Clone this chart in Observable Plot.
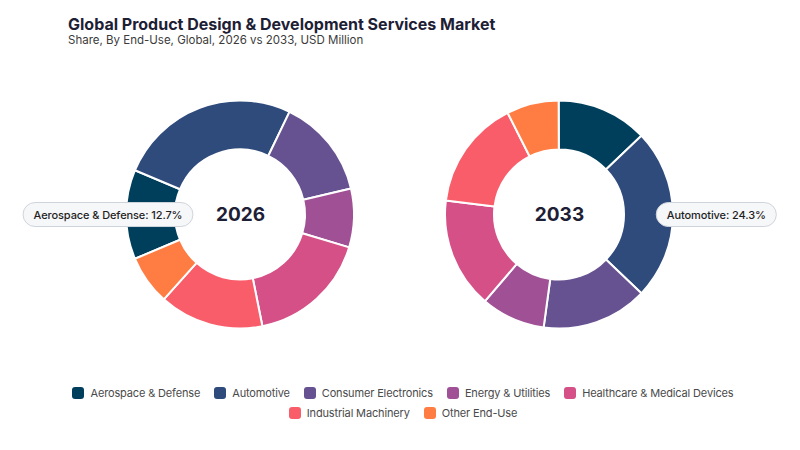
<!DOCTYPE html>
<html>
<head>
<meta charset="utf-8">
<script src="https://cdn.jsdelivr.net/npm/d3@7"></script>
<script src="https://cdn.jsdelivr.net/npm/@observablehq/plot@0.6"></script>
<style>
  body { margin: 0; background: #fff; font-family: Inter, "Noto Sans", sans-serif; }
  #chart { position: relative; width: 800px; height: 450px; overflow: hidden; }
  .title { position: absolute; left: 68px; top: 14px; font-size: 16px; font-weight: 700; color: #1d2035; white-space: nowrap; }
  .subtitle { position: absolute; left: 68px; top: 33px; font-size: 11.5px; color: #3b3b3b; white-space: nowrap; }
  #plot { position: absolute; left: 0; top: 60px; }
  #legend { position: absolute; left: 60px; top: 383px; width: 700px; }
  #legend .key-swatches { font-family: Inter, sans-serif; font-size: 11px; letter-spacing: -0.15px; color: #4a4a4a; margin: 0; }
  #legend .key-swatches-wrap { justify-content: center; min-height: 0; }
  #legend .key-swatch { margin-right: 14px; height: 20px; }
  #legend .key-swatch > svg { margin-right: 6px; }
  #legend .key-swatch rect { rx: 3px; ry: 3px; }
  .callout-pill { fill: #f6f7f9; stroke: #cfd4dc; stroke-width: 1; }
  g.callout text { letter-spacing: -0.1px; }
</style>
</head>
<body>
<div id="chart">
  <div class="title">Global Product Design &amp; Development Services Market</div>
  <div class="subtitle">Share, By End-Use, Global, 2026 vs 2033, USD Million</div>
  <div id="plot"></div>
  <div id="legend"></div>
</div>
<script>
// End-use categories and their shares (%) for each year
const categories = [
  "Aerospace & Defense",
  "Automotive",
  "Consumer Electronics",
  "Energy & Utilities",
  "Healthcare & Medical Devices",
  "Industrial Machinery",
  "Other End-Use"
];
const years = ["2026", "2033"];
const share2026 = [12.7, 25.8, 14.2, 8.3, 17.2, 14.8, 7.0];
const share2033 = [12.9, 24.3, 15.0, 9.1, 15.7, 15.6, 7.4];
const palette = ["#003f5c", "#2f4b7c", "#665191", "#a05195", "#d45087", "#f95d6a", "#ff7c43"];

// Highlighted slice per year
const callouts = [
  {year: "2026", category: "Aerospace & Defense"},
  {year: "2033", category: "Automotive"}
];

// Layout: donut radii, where the highlighted slice faces, and label offsets
const outerRadius = 114;
const holeRadius = 65;
const focusAngle = {"2026": -Math.PI / 2, "2033": Math.PI / 2};
const labelOffset = {"2026": -132.5, "2033": 156.8};

const sharesByYear = {"2026": share2026, "2033": share2033};
const shareOf = (year, category) => sharesByYear[year][categories.indexOf(category)];

// Turn shares into arc angles, rotated so the highlighted slice faces its label
const slices = years.flatMap((year) => {
  const values = sharesByYear[year];
  const total = d3.sum(values);
  const focus = categories.indexOf(callouts.find((c) => c.year === year).category);
  const before = d3.sum(values.slice(0, focus));
  const offset = focusAngle[year] - (2 * Math.PI * (before + values[focus] / 2)) / total;
  let acc = 0;
  return categories.map((category, k) => {
    const startAngle = offset + (2 * Math.PI * acc) / total;
    acc += values[k];
    const endAngle = offset + (2 * Math.PI * acc) / total;
    return {year, category, share: values[k], startAngle, endAngle};
  });
});

// Draw each slice as a donut arc centred on the year's x position
function renderArcs(index, scales, values, dimensions) {
  const cy = dimensions.marginTop + (dimensions.height - dimensions.marginTop - dimensions.marginBottom) / 2;
  const arc = d3.arc().innerRadius(holeRadius).outerRadius(outerRadius);
  const g = d3.create("svg:g");
  g.selectAll("path")
    .data(index)
    .join("path")
    .attr("transform", (i) => `translate(${values.x[i]},${cy})`)
    .attr("d", (i) => arc(slices[i]))
    .attr("fill", (i) => values.fill[i])
    .attr("stroke", "#fff")
    .attr("stroke-width", 2)
    .attr("stroke-linejoin", "round");
  return g.node();
}

const chart = Plot.plot({
  width: 800,
  height: 309,
  margin: 0,
  style: {fontFamily: "Inter, sans-serif", background: "transparent", overflow: "visible"},
  x: {type: "point", domain: years, range: [240, 559.5], padding: 0, axis: null},
  color: {domain: categories, range: palette},
  marks: [
    Plot.dot(slices, {x: "year", fill: "category", render: renderArcs}),
    Plot.text(years, {x: (d) => d, text: (d) => d, fontSize: 19, fontWeight: 700, fill: "#1d2035"}),
    ...callouts.map((c) =>
      Plot.text([c], {
        x: "year",
        text: (d) => `${d.category}: ${shareOf(d.year, d.category).toFixed(1)}%`,
        dx: labelOffset[c.year],
        fontSize: 11,
        fontWeight: 500,
        fill: "#1f1f1f",
        className: "callout"
      })
    )
  ]
});
document.getElementById("plot").appendChild(chart);

// Rounded pill behind each callout label, sharing the label's transform
chart.querySelectorAll("g.callout text").forEach((t) => {
  const b = t.getBBox();
  const pill = document.createElementNS("http://www.w3.org/2000/svg", "rect");
  const mid = b.y + b.height / 2;
  pill.setAttribute("x", b.x - 10.5);
  pill.setAttribute("y", mid - 12);
  pill.setAttribute("width", b.width + 21);
  pill.setAttribute("height", 24);
  pill.setAttribute("rx", 12);
  pill.setAttribute("class", "callout-pill");
  const tf = t.getAttribute("transform");
  if (tf) pill.setAttribute("transform", tf);
  t.parentNode.insertBefore(pill, t);
});

const legend = Plot.legend({
  color: {domain: categories, range: palette},
  legend: "swatches",
  swatchSize: 12,
  className: "key"
});
document.getElementById("legend").appendChild(legend);
</script>
</body>
</html>
